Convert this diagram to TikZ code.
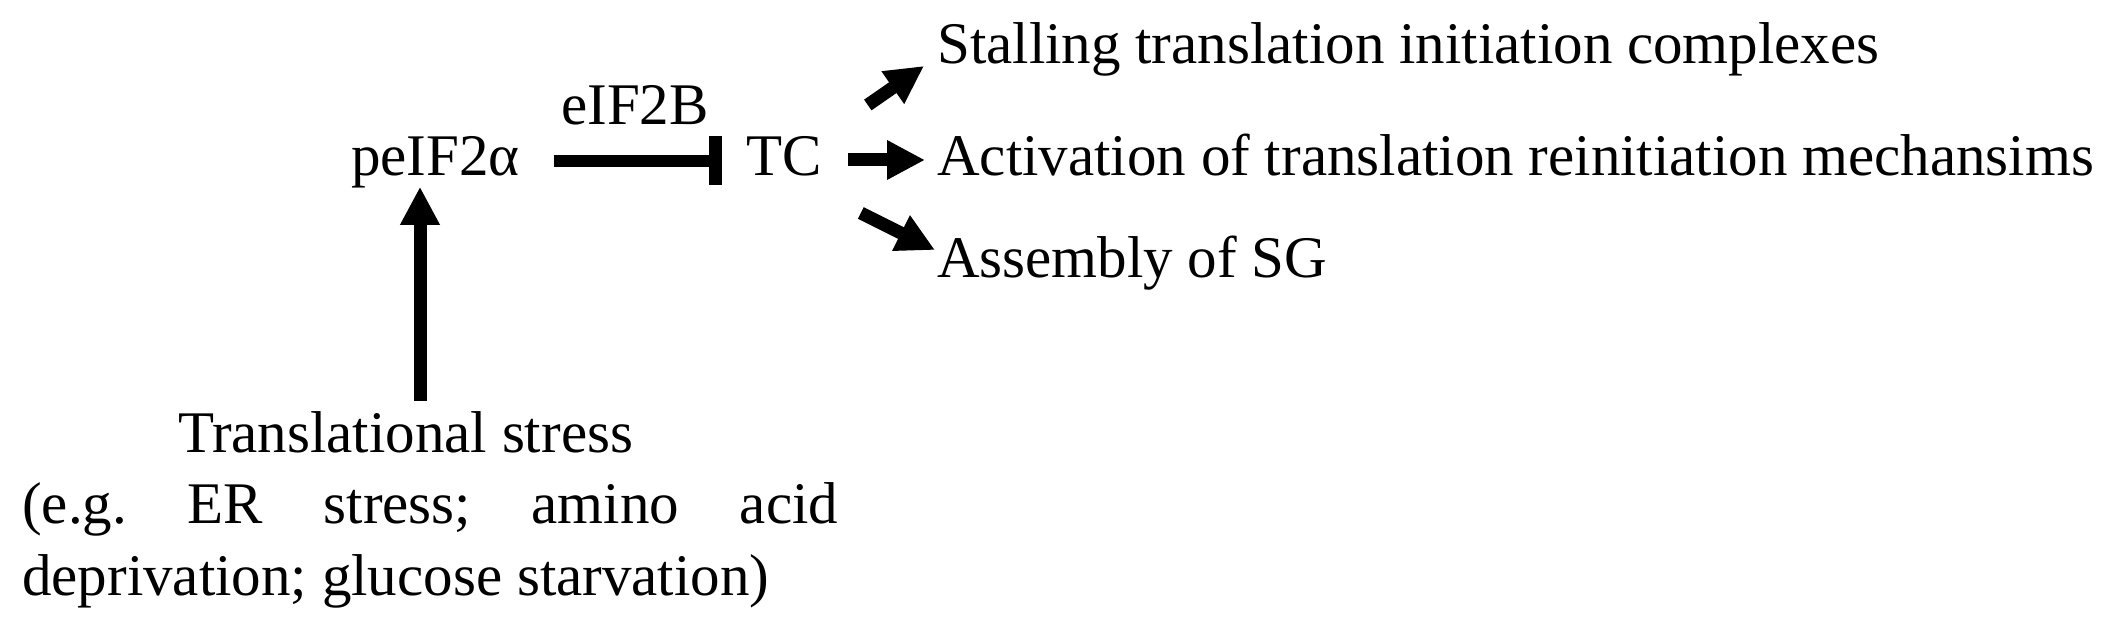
\documentclass[tikz,border=0pt]{standalone}
\usepackage{fontspec}
\setmainfont{Liberation Serif}
\usetikzlibrary{arrows.meta}
\frenchspacing
\begin{document}
\begin{tikzpicture}[x=1pt,y=1pt,
  lbl/.style={inner sep=0pt, anchor=base west, font=\fontsize{59}{71}\selectfont},
  arr/.style={line width=13pt, -{Triangle[length=38pt,width=37pt]}},
  inh/.style={line width=12.5pt, -{Bar[width=49pt,line width=13pt]}}]
\useasboundingbox (0,0) rectangle (2120,627);
\node[lbl] (pe) at (351,451.5) {peIF2α};
\node[lbl] (eif) at (561,502.5) {eIF2B};
\node[lbl] (tc) at (746,451.5) {TC};
\node[lbl] (st) at (937,563.5) {Stalling translation initiation complexes};
\node[lbl] (ac) at (937,451.5) {Activation of translation reinitiation mechansims};
\node[lbl] (as) at (937,349) {Assembly of SG};
\node[lbl, anchor=base] (ts) at (405.6,175) {Translational stress};
\node[lbl] (eg1) at (22,104) {\makebox[816pt][s]{(e.g. ER stress; amino acid}};
\node[lbl] (eg2) at (22,32) {deprivation; glucose starvation)};
\draw[arr] ([xshift=14.4pt,yshift=10pt]ts.north) -- ([xshift=14.4pt,yshift=1.5pt]ts.north |- pe.south);
\draw[inh] ([xshift=34pt,yshift=14.5pt]pe.base east) -- ([xshift=-24pt,yshift=14.5pt]tc.base west);
\draw[arr] ([xshift=26pt,yshift=15.5pt]tc.base east) -- ([xshift=-12pt,yshift=15.5pt]ac.base west);
\draw[arr] ([xshift=46pt,yshift=70.5pt]tc.base east) -- ([xshift=-13pt,yshift=-2.5pt]st.base west);
\draw[arr] ([xshift=39pt,yshift=-37.5pt]tc.base east) -- ([xshift=-2pt,yshift=28pt]as.base west);
\end{tikzpicture}
\end{document}
